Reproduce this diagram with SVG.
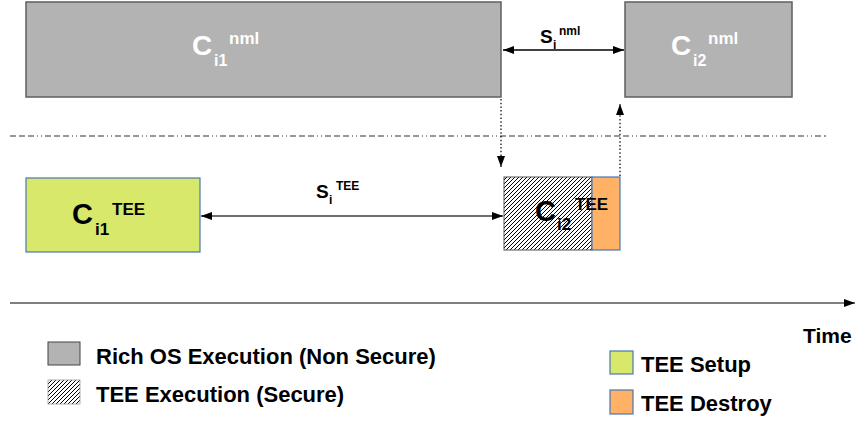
<svg xmlns="http://www.w3.org/2000/svg" width="856" height="422" viewBox="0 0 856 422">
<style>
text{font-family:"Liberation Sans",Arial,sans-serif;}
.nml{fill:#b3b3b3;stroke:#5f5f5f;stroke-width:1.5}
.w{fill:#fff}
.b{font-weight:bold}
.leg{font-size:22px;font-weight:bold;fill:#000}
.conn{stroke:#000;stroke-width:1.3;fill:none}
.gray{stroke:#6e6e6e;stroke-width:2;fill:none}
.dot{stroke:#000;stroke-width:1.2;stroke-dasharray:1.5 2.2;fill:none}
.blue{stroke:#4a76b5;stroke-width:1.2}
</style>
<defs>
<pattern id="hatch" patternUnits="userSpaceOnUse" width="4" height="4">
<rect width="4" height="4" fill="#fff"/>
<path d="M-1,1 l2,-2 M0,4 l4,-4 M3,5 l2,-2" stroke="#000" stroke-width="1"/>
</pattern>
<marker id="ah" viewBox="0 0 10 10" refX="10" refY="5" markerWidth="11" markerHeight="8" markerUnits="userSpaceOnUse" orient="auto-start-reverse" preserveAspectRatio="none">
<path d="M0,0 L10,5 L0,10 z" fill="#000"/>
</marker>
</defs>

<g id="c-i1-nml">
<rect class="nml" x="26" y="2" width="475" height="95"/>
<text x="192" y="55" font-size="28" class="w b">C</text>
<text x="214" y="66" font-size="16" class="w b">i1</text>
<text x="229" y="44" font-size="17" class="w b">nml</text>
</g>
<g id="c-i2-nml">
<rect class="nml" x="625" y="2" width="167" height="95"/>
<text x="671" y="55" font-size="28" class="w b">C</text>
<text x="693" y="66" font-size="16" class="w b">i2</text>
<text x="708" y="44" font-size="17" class="w b">nml</text>
</g>

<g id="c-i1-tee">
<rect class="blue" x="26" y="178" width="174" height="74" fill="#d7e86a"/>
<text x="72" y="224" font-size="29" class="b">C</text>
<text x="95" y="235" font-size="17" class="b">i1</text>
<text x="112" y="215" font-size="17" class="b">TEE</text>
</g>
<g id="c-i2-tee">
<rect x="504" y="177" width="88" height="73" fill="url(#hatch)" stroke="#555" stroke-width="1"/>
<rect class="blue" x="592" y="177" width="28" height="73" fill="#ffb266"/>
<text x="535" y="221" font-size="29" class="b">C</text>
<text x="557" y="230" font-size="17" class="b">i2</text>
<text x="575" y="210" font-size="17" class="b">TEE</text>
</g>

<g id="labels">
<text x="540" y="43" font-size="19" class="b">S</text>
<text x="553" y="49" font-size="12" class="b">i</text>
<text x="559" y="35" font-size="12" class="b">nml</text>
<text x="316" y="198" font-size="19" class="b">S</text>
<text x="329" y="204" font-size="12" class="b">i</text>
<text x="336" y="190" font-size="12" class="b">TEE</text>
<text x="803" y="343" font-size="21" class="b">Time</text>
</g>

<g id="connectors">
<line x1="10" y1="136" x2="826" y2="136" stroke="#333" stroke-width="1.2" stroke-dasharray="6 3 6 3 6 3 1 3 1 3"/>
<line class="conn" x1="503" y1="50" x2="624" y2="50" marker-start="url(#ah)" marker-end="url(#ah)"/>
<line class="gray" x1="201" y1="216" x2="503" y2="216" marker-start="url(#ah)" marker-end="url(#ah)"/>
<line class="dot" x1="501" y1="99" x2="501" y2="167" marker-end="url(#ah)"/>
<line class="dot" x1="620" y1="176" x2="620" y2="104" marker-end="url(#ah)"/>
<line x1="10" y1="303" x2="855" y2="303" stroke="#555" stroke-width="1.5" marker-end="url(#ah)"/>
</g>

<g id="legend">
<rect x="48" y="342" width="32" height="23" fill="#b3b3b3" stroke="#444" stroke-width="1"/>
<text x="96" y="364" class="leg">Rich OS Execution (Non Secure)</text>
<rect x="48" y="380" width="32" height="24" fill="url(#hatch)" stroke="#999" stroke-width="0.8"/>
<text x="96" y="402" class="leg">TEE Execution (Secure)</text>
<rect class="blue" x="610" y="351" width="23" height="23" fill="#d7e86a"/>
<text x="641" y="372" class="leg">TEE Setup</text>
<rect class="blue" x="610" y="390" width="23" height="24" fill="#ffb266"/>
<text x="641" y="411" class="leg">TEE Destroy</text>
</g>
</svg>
